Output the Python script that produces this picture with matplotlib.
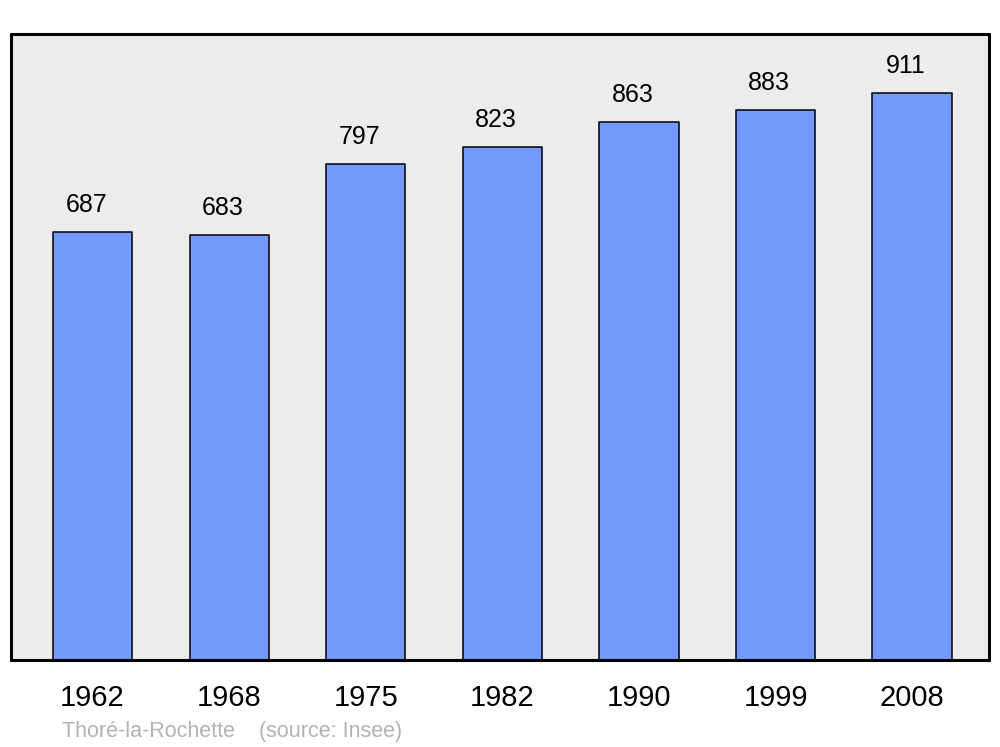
import matplotlib.pyplot as plt
import numpy as np

plt.rcParams['font.family'] = ['Liberation Sans', 'DejaVu Sans']

years = ['1962', '1968', '1975', '1982', '1990', '1999', '2008']
population = [687, 683, 797, 823, 863, 883, 911]
place = 'Thoré-la-Rochette'

BAR_COLOR = '#7499ff'
BG_COLOR = '#ececec'

fig = plt.figure(figsize=(10, 7.47), dpi=100)
ax = fig.add_axes([0.011, 0.1165, 0.978, 0.838])
ax.set_facecolor(BG_COLOR)

x = np.arange(len(years))
bars = ax.bar(x, population, width=0.58, color=BAR_COLOR, edgecolor='black',
              linewidth=1.1, zorder=2)
for b in bars:
    b.set_joinstyle('round')

for xi, v in zip(x, population):
    ax.annotate(str(v), (xi, v), xytext=(-4.5, 14.4), textcoords='offset points',
                ha='center', va='baseline', fontsize=18)

ax.set_xlim(-0.597, 6.563)
ax.set_ylim(0, 1005)
ax.set_yticks([])
ax.set_xticks(x, years, fontsize=21)
ax.tick_params(axis='x', length=0, pad=17)

for s in ax.spines.values():
    s.set_linewidth(2.2)
    s.set_capstyle('round')

fig.text(0.062, 0.0134, f'{place}    (source: Insee)', fontsize=15.5, color='#b3b3b3',
         ha='left', va='baseline')

fig.savefig('out.png', dpi=100)
